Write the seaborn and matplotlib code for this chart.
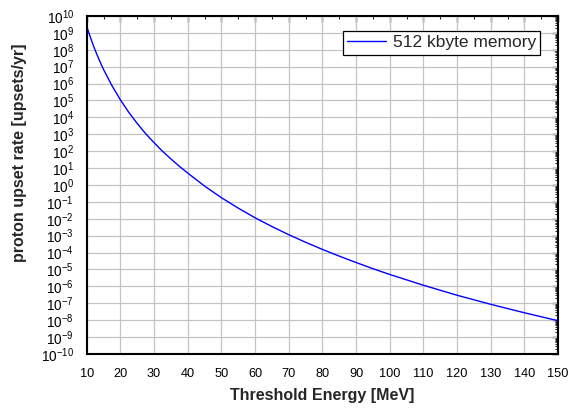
import matplotlib
matplotlib.use("Agg")
import matplotlib.pyplot as plt
import matplotlib.ticker as mticker
import numpy as np
import pandas as pd
import seaborn as sns

# Data
energy_mev = [10, 11, 12, 13, 14, 15, 17.5, 20, 22.5, 25, 27.5, 30, 32.5, 35, 37.5,
              40, 45, 50, 55, 60, 65, 70, 75, 80, 85, 90, 95, 100, 110, 120, 130, 140, 150]
upset_rate = [2.45e9, 6.3e8, 1.75e8, 5.5e7, 1.9e7, 6.9e6, 7.6e5, 1.1e5, 2.0e4, 4.4e3,
              1.1e3, 3.2e2, 1.0e2, 35, 12.9, 5.1, 0.87, 0.178, 0.043, 0.0115, 3.5e-3,
              1.15e-3, 4.1e-4, 1.55e-4, 6.2e-5, 2.6e-5, 1.12e-5, 5.1e-6, 1.17e-6,
              3.0e-7, 8.7e-8, 2.75e-8, 9.3e-9]
series_name = "512 kbyte memory"
x_ticks = list(range(10, 151, 10))
y_decades = list(range(-10, 11))

df = pd.DataFrame({"energy": energy_mev, "rate": upset_rate, "series": series_name})

sns.set_theme(style="whitegrid")
plt.rcParams["font.family"] = ["Liberation Sans", "DejaVu Sans"]
plt.rcParams["mathtext.fontset"] = "custom"
plt.rcParams["mathtext.rm"] = "Liberation Sans"
plt.rcParams["mathtext.it"] = "Liberation Sans:italic"
plt.rcParams["mathtext.bf"] = "Liberation Sans:bold"

fig = plt.figure(figsize=(5.68, 4.08), dpi=100)
ax = fig.add_axes([0.1526, 0.1324, 0.8298, 0.8284])
ax.set_facecolor("white")

sns.lineplot(data=df, x="energy", y="rate", hue="series", palette=["#0000ff"],
             linewidth=1.0, ax=ax)
ax.set_yscale("log")
ax.set_xlim(10, 150)
ax.set_ylim(1e-10, 1e10)

ax.set_xticks(x_ticks)
ax.xaxis.set_minor_locator(mticker.MultipleLocator(5))
ax.set_yticks([10.0 ** d for d in y_decades])
fmt = mticker.FuncFormatter(lambda v, p: r"$10^{%d}$" % int(round(np.log10(v))))
ax.yaxis.set_major_formatter(fmt)
ax.yaxis.set_minor_locator(mticker.LogLocator(base=10, subs=np.arange(2, 10), numticks=100))
ax.yaxis.set_minor_formatter(mticker.NullFormatter())

ax.grid(True, which="major", color="#c4c4c4", linewidth=0.9)
ax.grid(False, which="minor")

for side in ["left", "bottom", "top", "right"]:
    ax.spines[side].set_visible(True)
    ax.spines[side].set_color("black")
    ax.spines[side].set_linewidth(1.5)

ax.tick_params(axis="both", which="major", direction="out", length=6, width=1.2,
               color="black", labelcolor="black", pad=3)
ax.tick_params(axis="x", which="major", labelsize=9.2, pad=4)
ax.tick_params(axis="y", which="major", labelsize=9.8)
ax.tick_params(axis="both", which="minor", direction="out", length=3.5, width=1.0,
               color="black")
ax.tick_params(top=False, right=False, which="both")

# inward ticks on top and right edges
secx = ax.secondary_xaxis("top")
secx.set_xticks(x_ticks)
secx.xaxis.set_minor_locator(mticker.MultipleLocator(5))
secx.tick_params(which="major", direction="in", length=4, width=1.0, labeltop=False)
secx.tick_params(which="minor", direction="in", length=2.5, width=0.8)
secx.spines["top"].set_linewidth(1.5)

secy = ax.secondary_yaxis("right")
secy.set_yticks([10.0 ** d for d in y_decades])
secy.yaxis.set_minor_locator(mticker.LogLocator(base=10, subs=np.arange(2, 10), numticks=100))
secy.yaxis.set_minor_formatter(mticker.NullFormatter())
secy.tick_params(which="major", direction="in", length=4, width=1.0, labelright=False)
secy.tick_params(which="minor", direction="in", length=2.5, width=0.8)
secy.spines["right"].set_linewidth(1.5)

ax.set_xlabel("Threshold Energy [MeV]", fontsize=11.5, fontweight="bold", labelpad=6)
ax.set_ylabel("proton upset rate [upsets/yr]", fontsize=11.5, fontweight="bold")
ax.yaxis.set_label_coords(-0.127, 0.595)

leg = ax.legend(loc="upper right", bbox_to_anchor=(0.962, 0.9565), borderaxespad=0,
                fontsize=12.5, frameon=True, fancybox=False, edgecolor="black",
                framealpha=1, handlelength=2.25, handletextpad=0.35, borderpad=0.25,
                title=None)
leg.get_frame().set_linewidth(0.9)

fig.savefig("out.png", dpi=100, facecolor="white")
